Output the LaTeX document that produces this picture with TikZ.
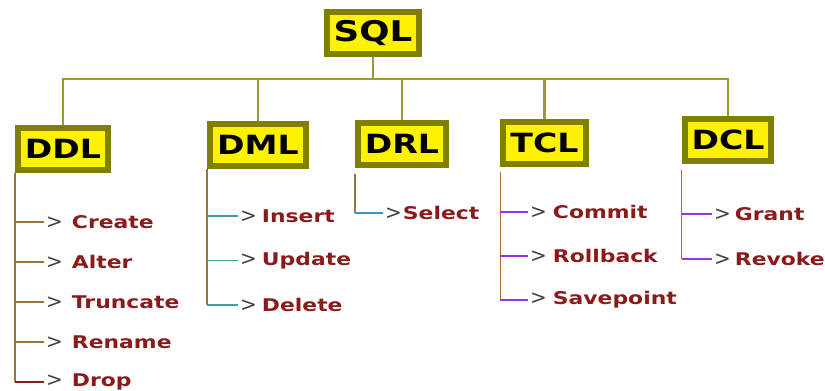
\documentclass[tikz,border=0pt]{standalone}
\usepackage{fontspec}
\newfontfamily\labelfont[FakeStretch=1.25]{DejaVu Sans Bold}
\newfontfamily\tipfont{DejaVu Sans}
\usetikzlibrary{positioning}
\definecolor{boxolive}{HTML}{7F7F00}
\definecolor{busolive}{HTML}{9A9A30}
\definecolor{trunkbrown}{HTML}{A0703C}
\definecolor{itemred}{HTML}{8B1A1A}
\definecolor{tealline}{HTML}{40A0A0}
\definecolor{blueline}{HTML}{3399CC}
\definecolor{violetline}{HTML}{9933E6}
\definecolor{tipgray}{HTML}{404040}
\newcommand{\tip}{{\tipfont\fontsize{20}{20}\selectfont\color{tipgray}>}}
\tikzset{
    %Define style for language boxes
    lang/.style={
           rectangle,
           draw=boxolive,
           line width=6pt,
           fill=yellow,
           inner xsep=7pt,
           minimum height=42pt,
           font=\labelfont\fontsize{26.5}{26.5}\selectfont},
    %Define style for list entries
    entry/.style={
           text width=170pt,
           align=left,
           inner sep=2pt,
           text=itemred,
           font=\labelfont\fontsize{17.5}{17.5}\selectfont},
    % Define line styles
    bus/.style={
           draw=busolive,
           line width=2.2pt},
    trunk/.style={
           draw=trunkbrown,
           line width=1.8pt},
    branch/.style={
           line width=1.5pt}
}

\begin{document}
\begin{tikzpicture}[x=1pt, y=-1pt, node distance=40pt]
 \useasboundingbox (0,0) rectangle (825,391);
 \coordinate (bus) at (0,79);

 % languages
 \node [lang, font=\labelfont\fontsize{28.5}{28.5}\selectfont] (sql) at (373,33) {SQL};
 \node [lang] (ddl) at (63,149) {DDL};
 \node [lang] (dml) at (258,144.5) {DML};
 \node [lang] (drl) at (402,143.5) {DRL};
 \node [lang] (tcl) at (544.5,142.5) {TCL};
 \node [lang] (dcl) at (728,140) {DCL};

 % DDL commands
 \node [entry, anchor=west] (create) at (44,222) {\tip\hspace{9pt}Create};
 \node [entry, below of=create] (alter) {\tip\hspace{9pt}Alter};
 \node [entry, below of=alter] (truncate) {\tip\hspace{9pt}Truncate};
 \node [entry, below of=truncate] (rename) {\tip\hspace{9pt}Rename};
 \node [entry, below of=rename] (drop) {\tip\hspace{9pt}Drop};

 % DML commands
 \node [entry, anchor=west] (insert) at (238,216) {\tip\hspace{5pt}Insert};
 \node [entry, below of=insert, node distance=44.5pt] (update) {\tip\hspace{5pt}Update};
 \node [entry, below of=update, node distance=44.5pt] (delete) {\tip\hspace{5pt}Delete};

 % DRL commands
 \node [entry, anchor=west] (select) at (383,213) {\tip\hspace{1pt}Select};

 % TCL commands
 \node [entry, anchor=west] (commit) at (528,212) {\tip\hspace{6pt}Commit};
 \node [entry, below of=commit, node distance=44pt] (rollback) {\tip\hspace{6pt}Rollback};
 \node [entry, below of=rollback, node distance=44pt] (savepoint) {\tip\hspace{6pt}Savepoint};

 % DCL commands
 \node [entry, anchor=west] (grant) at (712,214) {\tip\hspace{4pt}Grant};
 \node [entry, below of=grant, node distance=45pt] (revoke) {\tip\hspace{4pt}Revoke};

 % paths
 \draw [bus] (sql.south) -- (sql.south |- bus);
 \foreach \lang in {ddl,dml,drl,tcl,dcl}
   \draw [bus] (sql.south |- bus) -| (\lang.north);

 \draw [trunk] (ddl.south west) -- (ddl.south west |- drop);
 \foreach \cmd in {create,alter,truncate,rename}
   \draw [branch, trunkbrown] (ddl.south west |- \cmd) -- (\cmd.west);
 \draw [branch, itemred] (ddl.south west |- drop) -- (drop.west);

 \draw [trunk] (dml.south west) -- (dml.south west |- delete);
 \foreach \cmd in {insert,update,delete}
   \draw [branch, tealline] (dml.south west |- \cmd) -- (\cmd.west);

 \draw [trunk] ([yshift=-6pt]drl.south west) -- (drl.south west |- select);
 \draw [branch, blueline] (drl.south west |- select) -- (select.west);

 \draw [trunk] ([yshift=-5pt]tcl.south west) -- (tcl.south west |- savepoint);
 \foreach \cmd in {commit,rollback,savepoint}
   \draw [branch, violetline] (tcl.south west |- \cmd) -- (\cmd.west);

 \draw [trunk] ([yshift=-6pt]dcl.south west) -- (dcl.south west |- revoke);
 \foreach \cmd in {grant,revoke}
   \draw [branch, violetline] (dcl.south west |- \cmd) -- (\cmd.west);
\end{tikzpicture}
\end{document}
